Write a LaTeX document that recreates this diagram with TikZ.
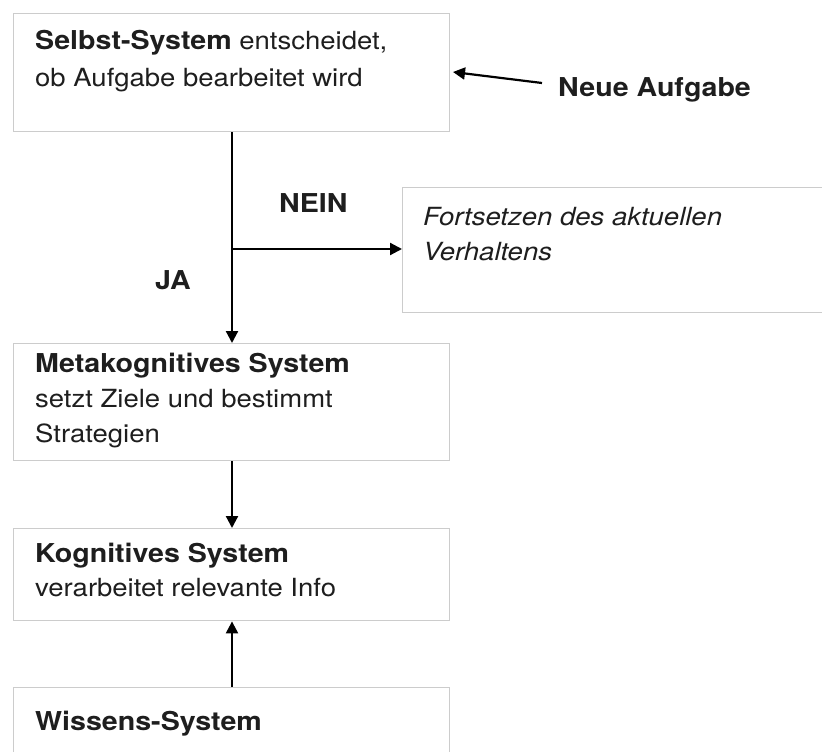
\documentclass[tikz,border=0pt]{standalone}
\usepackage{fontspec}
\setmainfont{TeX Gyre Heros}[FakeStretch=1.1]
\usetikzlibrary{arrows.meta}
\definecolor{boxgray}{HTML}{CCCCCC}
\definecolor{ink}{HTML}{1E1E1E}
\newcommand{\headbf}[1]{{\fontsize{26}{35}\selectfont\bfseries #1}}
\tikzset{
  sysbox/.style={draw=boxgray, line width=1.4pt, fill=white},
  txt/.style={anchor=base west, inner sep=0pt, text=ink, font=\fontsize{25}{35}\selectfont},
  lbl/.style={anchor=base west, inner sep=0pt, text=ink, font=\fontsize{26}{35}\selectfont\bfseries},
  arr/.style={draw=black, line width=2.2pt, -{Triangle[length=12pt,width=12pt]}},
}
\begin{document}
\begin{tikzpicture}[x=1pt,y=-1pt]
\useasboundingbox (0,0) rectangle (822,752);
% boxes
\node[sysbox, anchor=north west, minimum width=436pt, minimum height=118pt, inner sep=0pt] (b1) at (13,13) {};
\node[sysbox, anchor=north west, minimum width=430pt, minimum height=125pt, inner sep=0pt] (fort) at (402,187) {};
\node[sysbox, anchor=north west, minimum width=436pt, minimum height=117pt, inner sep=0pt] (meta) at (13,343) {};
\node[sysbox, anchor=north west, minimum width=436pt, minimum height=92pt, inner sep=0pt] (kog) at (13,528) {};
\node[sysbox, anchor=north west, minimum width=436pt, minimum height=90pt, inner sep=0pt] (wis) at (13,687) {};
% texts
\node[txt] (t1a) at (35,50) {\headbf{Selbst-System} entscheidet,};
\node[txt] (t1b) at (35,86) {ob Aufgabe bearbeitet wird};
\node[txt] (tfa) at (423,225) {\itshape Fortsetzen des aktuellen};
\node[txt] (tfb) at (423,260) {\itshape Verhaltens};
\node[txt] (tma) at (35,372) {\headbf{Metakognitives System}};
\node[txt] (tmb) at (35,407) {setzt Ziele und bestimmt};
\node[txt] (tmc) at (35,442) {Strategien};
\node[txt] (tka) at (35,562) {\headbf{Kognitives System}};
\node[txt] (tkb) at (35,596) {verarbeitet relevante Info};
\node[txt] (twa) at (35,730) {\headbf{Wissens-System}};
% labels
\node[lbl] (nein) at (279,212) {NEIN};
\node[lbl] (ja) at (155,289) {JA};
\node[lbl] (neue) at (558,96) {Neue Aufgabe};
% connectors
\coordinate (br) at (232,249);
\coordinate (naTail) at (542,83);
\coordinate (naTip) at (453,72);
\draw[arr] (232,0 |- b1.south) -- (232,0 |- meta.north);
\draw[arr] (br) -- (br -| fort.west);
\draw[arr] (232,0 |- meta.south) -- (232,0 |- kog.north);
\draw[arr] (232,0 |- wis.north) -- (232,0 |- kog.south);
\draw[arr] (naTail) -- (naTip);
\end{tikzpicture}
\end{document}
